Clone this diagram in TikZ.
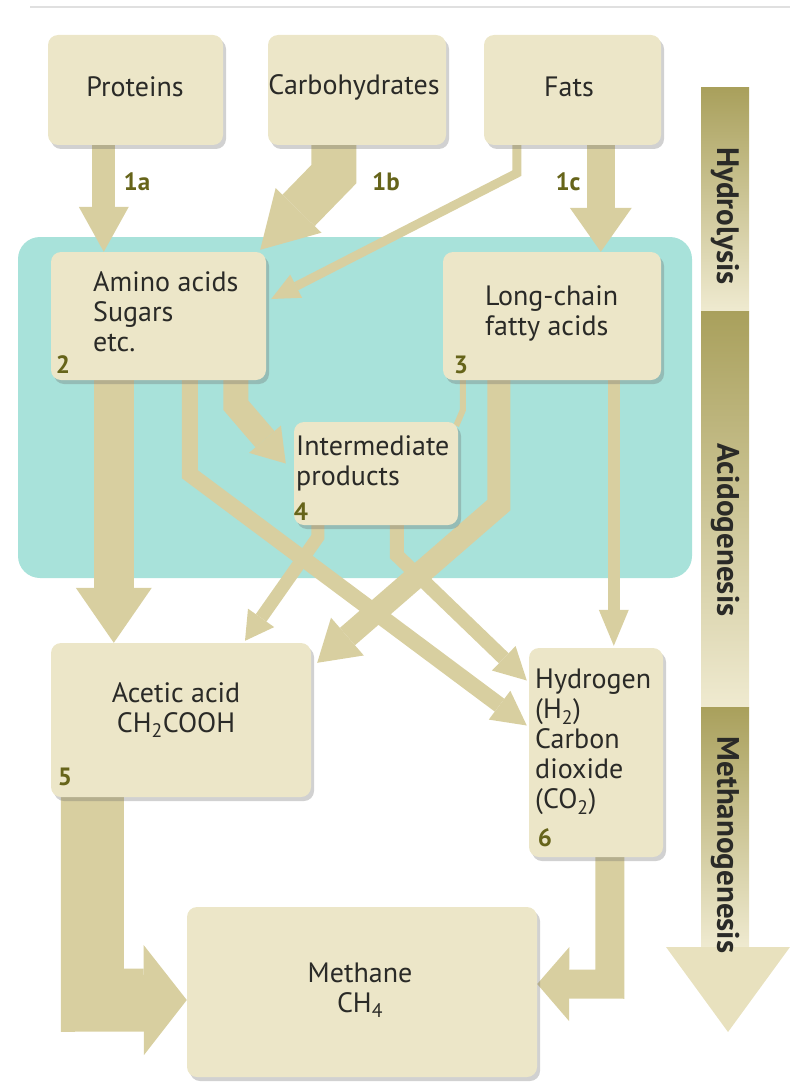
\documentclass[tikz,border=0pt]{standalone}
\usepackage{fontspec}
\setmainfont{PT Sans}
\usetikzlibrary{arrows.meta,shadows,calc}
\definecolor{tealzone}{HTML}{A8E2DA}
\definecolor{boxc}{HTML}{ECE6C8}
\definecolor{arrc}{HTML}{D8CFA0}
\definecolor{numc}{HTML}{66641A}
\definecolor{txtc}{HTML}{2A2A27}
\definecolor{bardark}{HTML}{A9A05C}
\definecolor{barlight}{HTML}{EFEAD0}
\definecolor{barhead}{HTML}{E8E1BE}
\begin{document}
\begin{tikzpicture}[x=1pt,y=-1pt,
  box/.style={rectangle, rounded corners=10pt, fill=boxc, draw=none, inner sep=0pt,
    drop shadow={shadow xshift=3pt,shadow yshift=-4pt,opacity=0.3,fill=black!60}},
  txt/.style={font=\fontsize{28}{30}\selectfont, text=txtc, inner sep=0pt, align=left},
  ctxt/.style={font=\fontsize{28}{30}\selectfont, text=txtc, inner sep=0pt, align=center},
  num/.style={font=\fontsize{25}{28}\selectfont\bfseries, text=numc, inner sep=0pt},
  barlabel/.style={font=\fontsize{31}{34}\selectfont\bfseries, text=txtc, inner sep=0pt, rotate=-90},
  barseg/.style={rectangle, draw=none, inner sep=0pt, minimum width=48pt, top color=bardark, bottom color=barlight},
  fat/.style={draw=arrc, line join=miter, line cap=butt}
]
\useasboundingbox (0,0) rectangle (794,1086);
\draw[black!12, line width=2pt] (30,7) -- (790,7);

% teal acidogenesis zone
\node[rectangle, rounded corners=22pt, fill=tealzone, minimum width=674pt, minimum height=341pt, inner sep=0pt] (zone) at (355,407.5) {};

\path
  (135.5,90) coordinate (cpro)
  (357,90) coordinate (ccarb)
  (572.5,90) coordinate (cfats)
  (158.5,316) coordinate (c2)
  (552,316) coordinate (c3)
  (376,473.5) coordinate (c4)
  (181,720) coordinate (c5)
  (596,752.5) coordinate (c6)
  (362,992) coordinate (c7);

% invisible anchors for boxes
\node[minimum width=175pt, minimum height=110pt, inner sep=0pt] (pro) at (cpro) {};
\node[minimum width=178pt, minimum height=110pt, inner sep=0pt] (carb) at (ccarb) {};
\node[minimum width=177pt, minimum height=110pt, inner sep=0pt] (fats) at (cfats) {};
\node[minimum width=215pt, minimum height=128pt, inner sep=0pt] (b2) at (c2) {};
\node[minimum width=218pt, minimum height=128pt, inner sep=0pt] (b3) at (c3) {};
\node[minimum width=164pt, minimum height=103pt, inner sep=0pt] (b4) at (c4) {};
\node[minimum width=260pt, minimum height=154pt, inner sep=0pt] (b5) at (c5) {};
\node[minimum width=134pt, minimum height=209pt, inner sep=0pt] (b6) at (c6) {};
\node[minimum width=350pt, minimum height=170pt, inner sep=0pt] (b7) at (c7) {};

% start points on box borders
\coordinate (pa) at ($(pro.south west)+(56,-2)$);
\coordinate (pb) at ($(carb.south west)+(66,-2)$);
\coordinate (pf) at ($(fats.south west)+(33,-2)$);
\coordinate (pc) at ($(fats.south west)+(117,-2)$);
\coordinate (s25) at ($(b2.south west)+(63,-2)$);
\coordinate (s26) at ($(b2.south west)+(139,-2)$);
\coordinate (s24) at ($(b2.south west)+(185,-2)$);
\coordinate (s34) at ($(b3.south west)+(20,-2)$);
\coordinate (s35) at ($(b3.south west)+(56,-2)$);
\coordinate (s36) at ($(b3.south west)+(171,-2)$);
\coordinate (s45) at ($(b4.south west)+(24,-2)$);
\coordinate (s46) at ($(b4.south west)+(103,-2)$);
\coordinate (s57) at ($(b5.south west)+(41.5,-2)$);
\coordinate (s67) at ($(b6.south west)+(81,-2)$);

% connectors
\draw[fat, line width=23pt, -{Triangle[width=50pt,length=45pt,line width=0pt]}] (pa) -- (pa |- b2.north);
\draw[fat, line width=45pt, -{Triangle[width=64pt,length=55pt,line width=0pt]}] (pb) -- ($(pb)+(0,31)$) -- ($(b2.north east)+(-6,-2)$);
\draw[fat, line width=9pt, -{Triangle[width=26pt,length=28pt,line width=0pt]}] (pf) -- ($(pf)+(0,30)$) -- ($(b2.east)+(5,-17)$);
\draw[fat, line width=28pt, -{Triangle[width=62pt,length=44pt,line width=0pt]}] (pc) -- (pc |- b3.north);
\draw[fat, line width=40pt, -{Triangle[width=76pt,length=55pt,line width=0pt]}] (s25) -- (s25 |- b5.north);
\draw[fat, line width=25pt, -{Triangle[width=42pt,length=32pt,line width=0pt]}] (s24) -- ($(s24)+(0,27)$) -- ($(b4.west)+(-8,-10)$);
\draw[fat, line width=16pt, -{Triangle[width=36pt,length=34pt,line width=0pt]}] (s26) -- ($(s26)+(0,96)$) -- ($(b6.west)+(-2,-27)$);
\draw[fat, line width=6pt] (s34) -- ($(s34)+(0,32)$) -- ($(b4.north east)+(-2,4)$);
\draw[fat, line width=23pt, -{Triangle[width=50pt,length=40pt,line width=0pt]}] (s35) -- ($(s35)+(0,127)$) -- ($(b5.north east)+(6,20)$);
\draw[fat, line width=12pt, -{Triangle[width=30pt,length=36pt,line width=0pt]}] (s36) -- ($(s36 |- b6.north)+(0,-2)$);
\draw[fat, line width=13pt, -{Triangle[width=32pt,length=28pt,line width=0pt]}] (s45) -- ($(s45)+(0,14)$) -- ($(b5.north)+(64,-2)$);
\draw[fat, line width=14pt, -{Triangle[width=34pt,length=32pt,line width=0pt]}] (s46) -- ($(s46)+(0,32)$) -- ($(b6.west)+(-2,-72)$);
\draw[fat, line width=63pt, -{Triangle[width=110pt,length=43pt,line width=0pt]}] (s57) -- ($(s57)+(0,205)$) -- ($(b7.west)+(0,8)$);
\draw[fat, line width=29pt, -{Triangle[width=74pt,length=32pt,line width=0pt]}] (s67) -- ($(s67)+(0,129)$) -- ($(b7.east)+(0,-8)$);

% visible boxes
\node[box, minimum width=175pt, minimum height=110pt] (proB) at (cpro) {};
\node[box, minimum width=178pt, minimum height=110pt] (carbB) at (ccarb) {};
\node[box, minimum width=177pt, minimum height=110pt] (fatsB) at (cfats) {};
\node[box, minimum width=215pt, minimum height=128pt] (b2B) at (c2) {};
\node[box, minimum width=218pt, minimum height=128pt] (b3B) at (c3) {};
\node[box, minimum width=164pt, minimum height=103pt] (b4B) at (c4) {};
\node[box, minimum width=260pt, minimum height=154pt] (b5B) at (c5) {};
\node[box, minimum width=134pt, minimum height=209pt] (b6B) at (c6) {};
\node[box, minimum width=350pt, minimum height=170pt] (b7B) at (c7) {};

% texts
\node[ctxt] (tpro) at (135,87) {Proteins};
\node[ctxt] (tcarb) at (354,87) {Carbohydrates};
\node[ctxt] (tfats) at (569,87) {Fats};
\node[txt, anchor=west] (t2) at (93,312) {Amino acids\\Sugars\\etc.};
\node[txt, anchor=west] (t3) at (485,313) {Long-chain\\fatty acids};
\node[txt, anchor=west] (t4) at (296,463) {Intermediate\\products};
\node[ctxt] (t5) at (176,710) {Acetic acid\\CH\textsubscript{2}COOH};
\node[txt, anchor=west] (t6) at (535,742) {Hydrogen\\(H\textsubscript{2})\\Carbon\\dioxide\\(CO\textsubscript{2})};
\node[ctxt] (t7) at (360,990) {Methane\\CH\textsubscript{4}};

% numbers
\node[num] (n1a) at (137,182) {1a};
\node[num] (n1b) at (386,182) {1b};
\node[num] (n1c) at (568,182) {1c};
\node[num] (n2) at (63,365) {2};
\node[num] (n3) at (461,365) {3};
\node[num] (n4) at (301,512) {4};
\node[num] (n5) at (65,777) {5};
\node[num] (n6) at (545,838) {6};

% stage bar
\node[barseg, minimum height=223pt] (seg1) at (725,199.5) {};
\node[barseg, minimum height=396pt] (seg2) at (725,509) {};
\node[barseg, minimum height=240pt] (seg3) at (725,827) {};
\fill[barhead] (666,947) -- (790,947) -- (728,1032) -- cycle;
\node[barlabel] (lh) at (725,216) {Hydrolysis};
\node[barlabel] (la) at (725,530) {Acidogenesis};
\node[barlabel] (lm) at (725,845) {Methanogenesis};
\end{tikzpicture}
\end{document}
